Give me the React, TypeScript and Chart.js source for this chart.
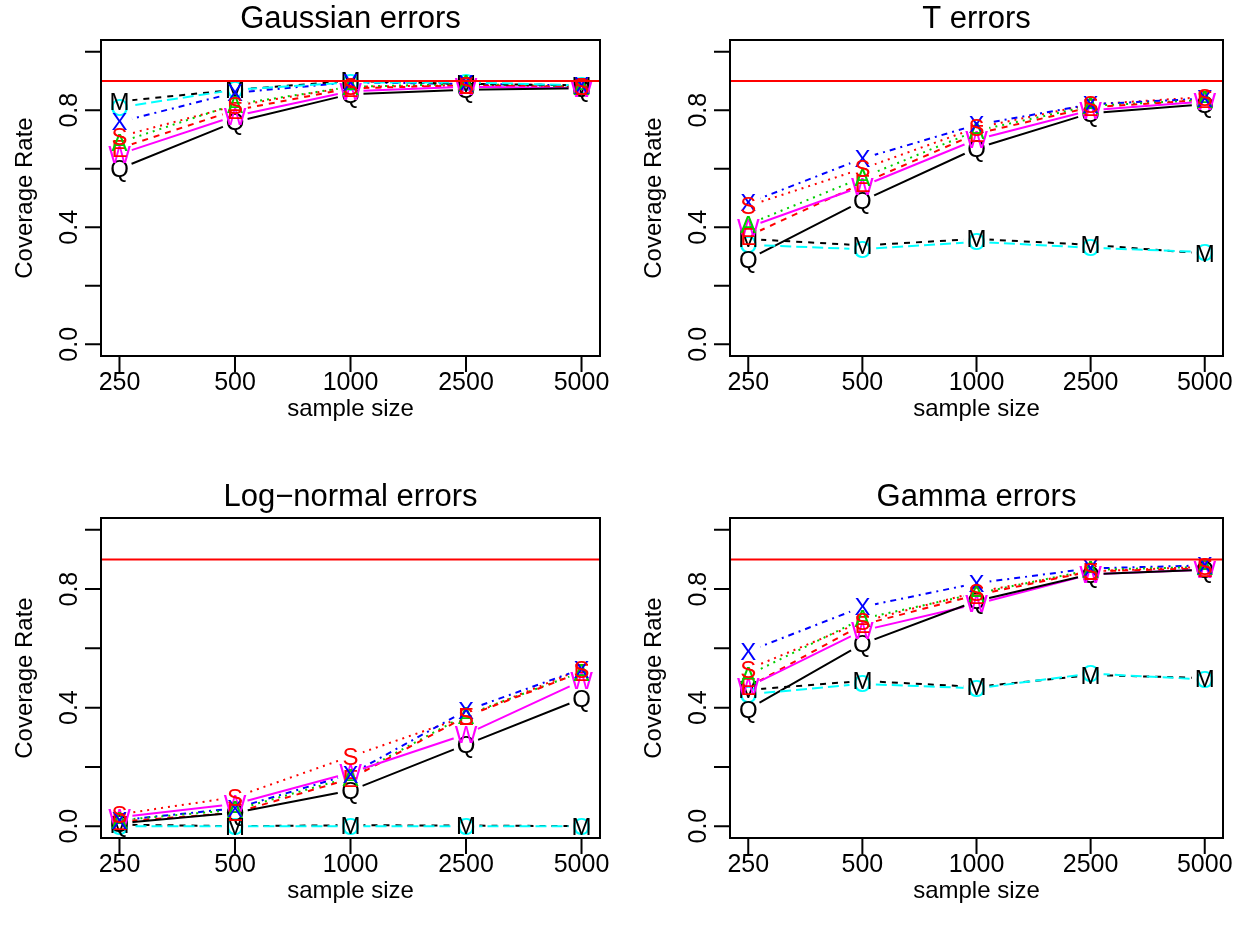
import React, { useEffect, useRef } from "react";
import { Chart, registerables } from "chart.js";

Chart.register(...registerables);

// ---------- data ----------
const sampleSizes = ["250", "500", "1000", "2500", "5000"];
const yTickValues = [0, 0.2, 0.4, 0.6, 0.8, 1.0];
const yTickLabels = ["0.0", "", "0.4", "", "0.8", ""];
const targetRate = 0.9;
const panelTitles = ["Gaussian errors", "T errors", "Log\u2212normal errors", "Gamma errors"];
const seriesLetters = ["O", "M", "Q", "W", "E", "A", "X", "S"];

// Gaussian errors
const gaussian_O = [0.81, 0.87, 0.895, 0.895, 0.885];
const gaussian_M = [0.83, 0.87, 0.9, 0.89, 0.885];
const gaussian_Q = [0.6, 0.76, 0.855, 0.87, 0.875];
const gaussian_W = [0.65, 0.78, 0.865, 0.88, 0.875];
const gaussian_E = [0.67, 0.8, 0.875, 0.885, 0.88];
const gaussian_A = [0.69, 0.82, 0.88, 0.89, 0.88];
const gaussian_X = [0.76, 0.86, 0.895, 0.89, 0.885];
const gaussian_S = [0.71, 0.815, 0.88, 0.885, 0.88];

// T errors
const t_O = [0.34, 0.325, 0.35, 0.33, 0.315];
const t_M = [0.36, 0.338, 0.36, 0.34, 0.31];
const t_Q = [0.29, 0.49, 0.67, 0.79, 0.82];
const t_W = [0.4, 0.54, 0.7, 0.8, 0.83];
const t_E = [0.37, 0.55, 0.72, 0.81, 0.835];
const t_A = [0.41, 0.57, 0.73, 0.815, 0.835];
const t_X = [0.483, 0.635, 0.75, 0.82, 0.84];
const t_S = [0.473, 0.6, 0.74, 0.82, 0.845];

// Log-normal errors
const lognormal_O = [0.0, 0.0, 0.0, 0.0, 0.0];
const lognormal_M = [0.005, 0.0, 0.003, 0.002, 0.0];
const lognormal_Q = [0.01, 0.045, 0.12, 0.275, 0.43];
const lognormal_W = [0.03, 0.075, 0.18, 0.31, 0.49];
const lognormal_E = [0.015, 0.045, 0.16, 0.37, 0.52];
const lognormal_A = [0.02, 0.055, 0.165, 0.375, 0.52];
const lognormal_X = [0.02, 0.06, 0.175, 0.39, 0.53];
const lognormal_S = [0.04, 0.098, 0.235, 0.37, 0.53];

// Gamma errors
const gamma_O = [0.445, 0.48, 0.465, 0.515, 0.495];
const gamma_M = [0.46, 0.49, 0.47, 0.51, 0.5];
const gamma_Q = [0.395, 0.615, 0.76, 0.85, 0.865];
const gamma_W = [0.47, 0.66, 0.75, 0.85, 0.865];
const gamma_E = [0.47, 0.68, 0.78, 0.86, 0.87];
const gamma_A = [0.51, 0.7, 0.785, 0.865, 0.875];
const gamma_X = [0.59, 0.74, 0.82, 0.87, 0.88];
const gamma_S = [0.53, 0.69, 0.79, 0.86, 0.875];

const panelSeries = [
  [gaussian_O, gaussian_M, gaussian_Q, gaussian_W, gaussian_E, gaussian_A, gaussian_X, gaussian_S],
  [t_O, t_M, t_Q, t_W, t_E, t_A, t_X, t_S],
  [lognormal_O, lognormal_M, lognormal_Q, lognormal_W, lognormal_E, lognormal_A, lognormal_X, lognormal_S],
  [gamma_O, gamma_M, gamma_Q, gamma_W, gamma_E, gamma_A, gamma_X, gamma_S],
];

// ---------- styles ----------
const seriesColors = ["#00FFFF", "#000000", "#000000", "#FF00FF", "#FF0000", "#00CD00", "#0000FF", "#FF0000"];
const seriesDashes = [[11, 5], [6, 6], [], [], [6, 6], [2, 5], [2, 5, 6, 5], [2, 5]];
const GAP_RADIUS = 13;

const FONT = '"Liberation Sans", Arial, Helvetica, sans-serif';

// canvas placement and plot box padding (left, right, top, bottom)
const panelGeom = [
  { left: 0, top: 0, w: 625, h: 470, pad: { left: 101, right: 25, top: 40, bottom: 114 } },
  { left: 625, top: 0, w: 625, h: 470, pad: { left: 105, right: 27, top: 40, bottom: 114 } },
  { left: 0, top: 469, w: 625, h: 470, pad: { left: 101, right: 25, top: 49, bottom: 101 } },
  { left: 625, top: 469, w: 625, h: 470, pad: { left: 105, right: 27, top: 49, bottom: 101 } },
];

function makePlugin(title: string) {
  return {
    id: "rframe",
    beforeDatasetDraw(chart: any, args: any) {
      // R type="b": lines stop short of the plotted characters
      const ctx = chart.ctx;
      const meta = args.meta;
      const path = new Path2D();
      path.rect(0, 0, chart.width, chart.height);
      meta.data.forEach((pt: any) => {
        path.moveTo(pt.x + GAP_RADIUS, pt.y);
        path.arc(pt.x, pt.y, GAP_RADIUS, 0, Math.PI * 2);
      });
      ctx.save();
      ctx.clip(path, "evenodd");
    },
    afterDatasetDraw(chart: any) {
      chart.ctx.restore();
    },
    afterDatasetsDraw(chart: any) {
      const ctx = chart.ctx;
      const xs = chart.scales.x;
      const ys = chart.scales.y;
      const area = chart.chartArea;
      ctx.save();
      // letters at points
      ctx.font = `24px ${FONT}`;
      ctx.textAlign = "center";
      ctx.textBaseline = "alphabetic";
      chart.data.datasets.forEach((ds: any, di: number) => {
        const meta = chart.getDatasetMeta(di);
        ctx.fillStyle = ds.borderColor;
        meta.data.forEach((pt: any) => {
          ctx.fillText(ds.letter, pt.x, pt.y + 8.5);
        });
      });
      // target line
      const yt = ys.getPixelForValue(targetRate);
      ctx.strokeStyle = "#FF0000";
      ctx.lineWidth = 2;
      ctx.setLineDash([]);
      ctx.beginPath();
      ctx.moveTo(area.left, yt);
      ctx.lineTo(area.right, yt);
      ctx.stroke();
      // box
      ctx.strokeStyle = "#000";
      ctx.lineWidth = 2;
      ctx.strokeRect(area.left, area.top, area.right - area.left, area.bottom - area.top);
      // ticks
      ctx.beginPath();
      sampleSizes.forEach((_, i) => {
        const x = xs.getPixelForValue(i + 1);
        ctx.moveTo(x, area.bottom);
        ctx.lineTo(x, area.bottom + 16);
      });
      yTickValues.forEach((v) => {
        const y = ys.getPixelForValue(v);
        ctx.moveTo(area.left, y);
        ctx.lineTo(area.left - 16, y);
      });
      ctx.stroke();
      ctx.fillStyle = "#000";
      ctx.font = `25px ${FONT}`;
      ctx.textAlign = "center";
      ctx.textBaseline = "middle";
      sampleSizes.forEach((lab, i) => {
        const x = xs.getPixelForValue(i + 1);
        ctx.fillText(lab, x, area.bottom + 27);
      });
      yTickValues.forEach((v, i) => {
        if (!yTickLabels[i]) return;
        const y = ys.getPixelForValue(v);
        ctx.save();
        ctx.translate(area.left - 31, y);
        ctx.rotate(-Math.PI / 2);
        ctx.fillText(yTickLabels[i], 0, 0);
        ctx.restore();
      });
      // axis titles
      ctx.font = `24px ${FONT}`;
      const cx = (area.left + area.right) / 2;
      ctx.fillText("sample size", cx, area.bottom + 53);
      ctx.save();
      ctx.translate(area.left - 76, (area.top + area.bottom) / 2);
      ctx.rotate(-Math.PI / 2);
      ctx.fillText("Coverage Rate", 0, 0);
      ctx.restore();
      // main title
      ctx.font = `31px ${FONT}`;
      ctx.fillText(title, cx, area.top - 21);
      ctx.restore();
    },
  };
}

function Panel({ index }: { index: number }) {
  const ref = useRef<HTMLCanvasElement | null>(null);
  const g = panelGeom[index];
  useEffect(() => {
    if (!ref.current) return;
    const series = panelSeries[index];
    const datasets = series.map((vals, si) => ({
      label: seriesLetters[si],
      letter: seriesLetters[si],
      data: vals.map((v, i) => ({ x: i + 1, y: v })),
      borderColor: seriesColors[si],
      backgroundColor: seriesColors[si],
      borderWidth: 2,
      borderDash: seriesDashes[si],
      pointRadius: 0,
      pointHoverRadius: 0,
      tension: 0,
      fill: false,
    }));
    const chart = new Chart(ref.current, {
      type: "line",
      data: { datasets } as any,
      options: {
        animation: false,
        responsive: false,
        maintainAspectRatio: false,
        events: [],
        layout: { padding: g.pad },
        plugins: { legend: { display: false }, tooltip: { enabled: false }, title: { display: false } },
        scales: {
          x: { type: "linear", min: 0.84, max: 5.16, display: false },
          y: { type: "linear", min: -0.04, max: 1.04, display: false },
        },
      },
      plugins: [makePlugin(panelTitles[index])],
    } as any);
    return () => chart.destroy();
  }, [index]);
  return (
    <canvas
      ref={ref}
      width={g.w}
      height={g.h}
      style={{ position: "absolute", left: g.left, top: g.top, width: g.w, height: g.h }}
    />
  );
}

export default function App() {
  return (
    <div style={{ position: "absolute", left: 0, top: 0, width: 1250, height: 939, background: "#fff" }}>
      {[0, 1, 2, 3].map((i) => (
        <Panel key={i} index={i} />
      ))}
    </div>
  );
}
